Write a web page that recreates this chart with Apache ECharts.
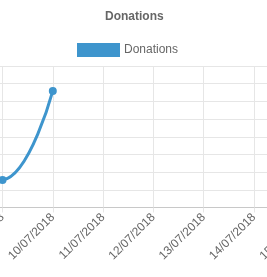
<!DOCTYPE html>
<html>
<head>
<meta charset="utf-8">
<script src="https://cdn.jsdelivr.net/npm/echarts@6/dist/echarts.min.js"></script>
<style>
html,body{margin:0;padding:0;background:#fff;overflow:hidden;width:267px;height:277px;position:relative;}
#c{width:427px;height:277px;position:absolute;left:-100px;top:0;}
</style>
</head>
<body>
<div id="c"></div>
<script>
var categories = ['08/07/2018','09/07/2018','10/07/2018','11/07/2018','12/07/2018','13/07/2018','14/07/2018','15/07/2018'];
var donations = [1.45, 1.55, 6.59, null, null, null, null, null];
var yTicks = [0, 1, 2, 3, 4, 5, 6, 7, 8];

var OFF = 100;
var chart = echarts.init(document.getElementById('c'));
chart.setOption({
  animation: false,
  backgroundColor: '#fff',
  title: {
    text: 'Donations',
    left: OFF + 100,
    top: 6,
    textStyle: {fontFamily: 'Liberation Sans', fontSize: 12, fontWeight: 'bold', color: '#666'}
  },
  legend: {
    data: ['Donations'],
    top: 38,
    left: OFF + 72,
    icon: 'rect',
    itemWidth: 43,
    itemHeight: 14,
    itemGap: 10,
    textStyle: {fontFamily: 'Liberation Sans', fontSize: 12, color: '#666', padding: [0,0,0,-1]}
  },
  grid: {left: OFF + 2.5 - 50.3, right: 427 - (OFF + 2.5 + 6 * 50.3), top: 66, bottom: 69.5, containLabel: false},
  xAxis: {
    type: 'category',
    data: categories,
    boundaryGap: false,
    axisLine: {lineStyle: {color: '#c8c8c8', width: 1}},
    axisTick: {show: true, length: 5, lineStyle: {color: '#e6e6e6'}},
    splitLine: {show: true, lineStyle: {color: '#e6e6e6', width: 1}},
    axisLabel: {rotate: 45, margin: 8, fontFamily: 'Liberation Sans', fontSize: 12, color: '#666', interval: 0}
  },
  yAxis: {
    type: 'value',
    min: yTicks[0],
    max: yTicks[yTicks.length - 1],
    interval: 1,
    axisLine: {show: false},
    axisTick: {show: false},
    axisLabel: {show: false},
    splitLine: {show: true, lineStyle: {color: '#e6e6e6', width: 1}}
  },
  series: [{
    name: 'Donations',
    type: 'line',
    data: donations,
    smooth: 0.4,
    connectNulls: false,
    symbol: 'circle',
    symbolSize: 8,
    showSymbol: true,
    color: '#3e95cd',
    lineStyle: {width: 3, color: '#3e95cd'},
    itemStyle: {color: '#3e95cd'}
  }]
});
</script>
</body>
</html>
